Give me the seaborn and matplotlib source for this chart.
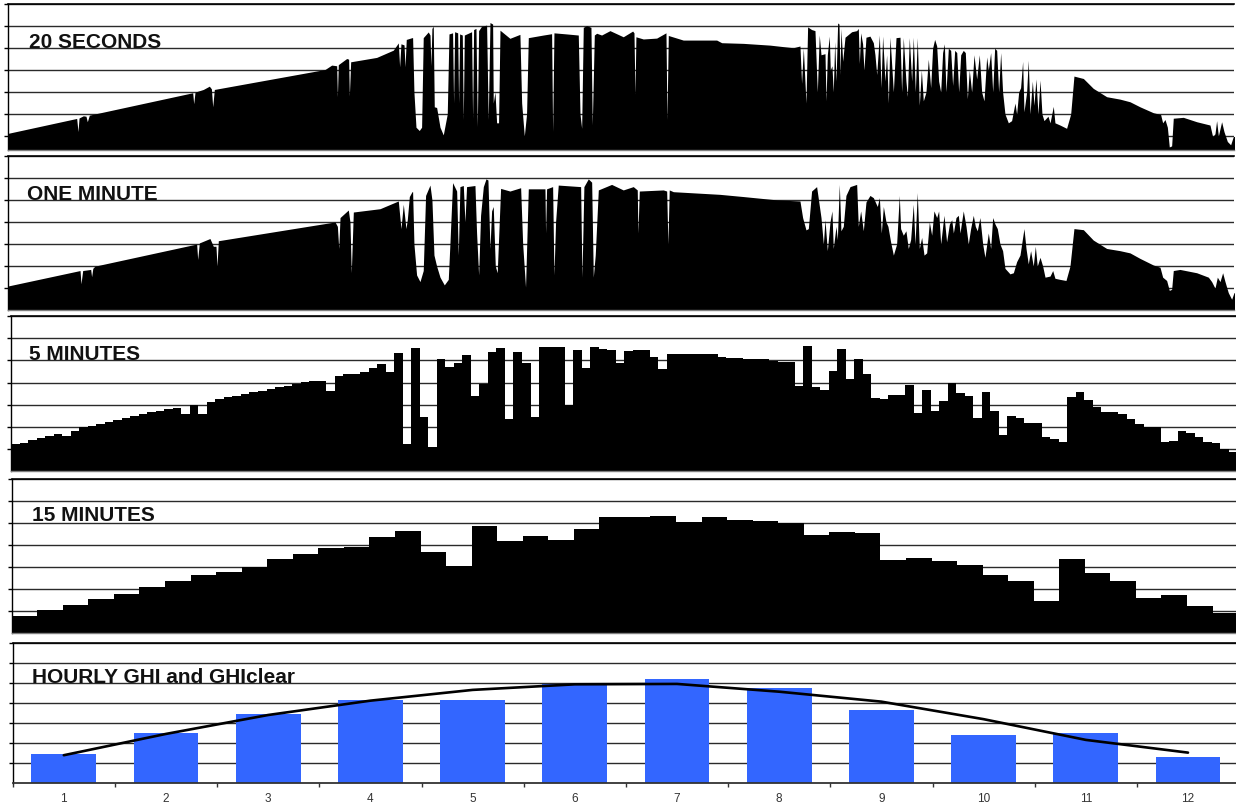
import numpy as np
import seaborn as sns
import matplotlib.pyplot as plt

# 20 second record, traced as (hour, W/m2) vertices
trace_20s = [
    (0.0, 112), (0.672, 180), (0.685, 120), (0.695, 182), (0.737, 192), (0.763, 190),
    (0.776, 165), (0.796, 195), (1.807, 297), (1.817, 247), (1.83, 300), (1.911, 312),
    (1.97, 327), (1.99, 315), (2.003, 233), (2.019, 312), (3.102, 403), (3.167, 423),
    (3.216, 420), (3.223, 279), (3.232, 425), (3.314, 453), (3.333, 450), (3.34, 282),
    (3.353, 438), (3.607, 458), (3.77, 491), (3.819, 524), (3.832, 415), (3.845, 520),
    (3.875, 515), (3.885, 415), (3.897, 540), (3.953, 548),
    (3.959, 548), (3.972, 300), (3.992, 140), (4.024, 125), (4.047, 140), (4.063, 548),
    (4.112, 574), (4.129, 560), (4.138, 420), (4.148, 590), (4.161, 600), (4.171, 233),
    (4.194, 230), (4.227, 140), (4.259, 105), (4.298, 200), (4.315, 565), (4.35, 570),
    (4.36, 250), (4.37, 575), (4.4, 570), (4.409, 250), (4.419, 565), (4.445, 560),
    (4.455, 175), (4.465, 560), (4.536, 575), (4.546, 180), (4.556, 585), (4.579, 590),
    (4.592, 142), (4.605, 580), (4.634, 600), (4.683, 605), (4.699, 175), (4.716, 617),
    (4.742, 610), (4.748, 250), (4.765, 300), (4.781, 160), (4.8, 160), (4.814, 582),
    (4.911, 545), (5.009, 563), (5.026, 250), (5.052, 100), (5.074, 200), (5.091, 548),
    (5.238, 560), (5.319, 566), (5.329, 120), (5.342, 570), (5.466, 565), (5.58, 560),
    (5.597, 200), (5.613, 135), (5.629, 595), (5.662, 603), (5.704, 595), (5.717, 150),
    (5.737, 560), (5.76, 568), (5.808, 560), (5.89, 580), (6.02, 552), (6.112, 578),
    (6.125, 570), (6.135, 290), (6.144, 552), (6.216, 542), (6.347, 546), (6.438, 570),
    (6.448, 175), (6.461, 558), (6.607, 537), (6.934, 537), (6.983, 525), (7.195, 522),
    (7.456, 514), (7.684, 502), (7.749, 510), (7.765, 340), (7.782, 500), (7.808, 250),
    (7.824, 597), (7.863, 585), (7.896, 580), (7.919, 300), (7.938, 560),
    (7.955, 470), (7.994, 475), (8.004, 260), (8.017, 470), (8.036, 555), (8.046, 400),
    (8.062, 420), (8.075, 300), (8.089, 530), (8.102, 350), (8.118, 615), (8.131, 610),
    (8.141, 380), (8.15, 590), (8.167, 440), (8.19, 550), (8.255, 575), (8.304, 580),
    (8.32, 590), (8.33, 430), (8.343, 570), (8.362, 520), (8.375, 400), (8.395, 550),
    (8.434, 555), (8.467, 525), (8.483, 470), (8.5, 380), (8.526, 560), (8.542, 320),
    (8.558, 555), (8.581, 350), (8.597, 470), (8.614, 250), (8.63, 550), (8.663, 300),
    (8.689, 548), (8.728, 550), (8.744, 300), (8.76, 548), (8.786, 350), (8.8, 280),
    (8.819, 548), (8.842, 350), (8.858, 550), (8.878, 300), (8.897, 548), (8.917, 240),
    (8.937, 400), (8.956, 260), (8.982, 300), (9.005, 450), (9.028, 320), (9.047, 500),
    (9.067, 540), (9.087, 510), (9.106, 350), (9.126, 300), (9.145, 480), (9.162, 520),
    (9.178, 300), (9.201, 500), (9.224, 490), (9.243, 330), (9.263, 490), (9.283, 480),
    (9.302, 300), (9.322, 470), (9.347, 490), (9.367, 480), (9.387, 270), (9.406, 400),
    (9.429, 300), (9.452, 470), (9.478, 360), (9.504, 470), (9.527, 300), (9.55, 260),
    (9.576, 460), (9.592, 400), (9.615, 480), (9.635, 300), (9.654, 500), (9.674, 490),
    (9.693, 300), (9.713, 480), (9.732, 300), (9.755, 200), (9.788, 160), (9.82, 170),
    (9.853, 250), (9.869, 200), (9.889, 300), (9.908, 320), (9.928, 440), (9.941, 210),
    (9.967, 300), (9.983, 445), (10.0, 200), (10.023, 350), (10.039, 240), (10.058, 360),
    (10.078, 200), (10.098, 355), (10.117, 200), (10.137, 170), (10.176, 190), (10.196, 160),
    (10.228, 235), (10.244, 160), (10.293, 150), (10.358, 135), (10.398, 200), (10.43, 373),
    (10.522, 362), (10.619, 317), (10.75, 279), (10.88, 268), (10.978, 256), (11.076, 233),
    (11.207, 206), (11.278, 198), (11.298, 160), (11.321, 175), (11.344, 140), (11.363, 50),
    (11.386, 55), (11.402, 181), (11.5, 185), (11.631, 165), (11.761, 150), (11.787, 97),
    (11.81, 110), (11.826, 170), (11.843, 100), (11.875, 165), (11.898, 120), (11.931, 75),
    (11.963, 60), (11.989, 97), (12.015, 100),
]

# one minute record, traced as (hour, W/m2) vertices
trace_1min = [
    (0.0, 110), (0.705, 180), (0.714, 120), (0.731, 180), (0.809, 185), (0.818, 152),
    (0.83, 190), (0.851, 200), (1.846, 300), (1.856, 230), (1.872, 305), (1.976, 325),
    (2.009, 290), (2.035, 290), (2.045, 200), (2.058, 315), (3.2, 400), (3.223, 380),
    (3.236, 280), (3.249, 420), (3.33, 454), (3.346, 400), (3.359, 170), (3.379, 445),
    (3.64, 460), (3.819, 495), (3.845, 370), (3.868, 480), (3.894, 370), (3.907, 410),
    (3.927, 515), (3.953, 537),
    (3.959, 537), (3.972, 300), (3.998, 160), (4.031, 130), (4.063, 180), (4.086, 520),
    (4.129, 567), (4.148, 500), (4.168, 250), (4.194, 200), (4.227, 150), (4.269, 115),
    (4.308, 140), (4.324, 300), (4.35, 578), (4.39, 540), (4.406, 250), (4.422, 560),
    (4.455, 565), (4.471, 400), (4.487, 560), (4.569, 565), (4.585, 350), (4.605, 160),
    (4.624, 430), (4.651, 560), (4.677, 595), (4.696, 590), (4.716, 280), (4.732, 450),
    (4.748, 470), (4.768, 200), (4.787, 170), (4.82, 552), (4.911, 540), (5.016, 555),
    (5.036, 300), (5.064, 105), (5.091, 550), (5.254, 550), (5.26, 350), (5.27, 550),
    (5.329, 560), (5.342, 160), (5.358, 400), (5.384, 567), (5.603, 560), (5.616, 150),
    (5.635, 560), (5.678, 595), (5.711, 580), (5.727, 150), (5.746, 250), (5.776, 545),
    (5.906, 570), (6.02, 545), (6.118, 560), (6.157, 545), (6.164, 350), (6.177, 540),
    (6.412, 545), (6.445, 540), (6.457, 300), (6.47, 545), (6.51, 537), (6.966, 525),
    (7.195, 515), (7.521, 500), (7.749, 495), (7.775, 420), (7.808, 364), (7.831, 370),
    (7.863, 540), (7.912, 560),
    (7.955, 420), (7.978, 300), (7.994, 410), (8.017, 270), (8.043, 400), (8.062, 450),
    (8.075, 280), (8.102, 380), (8.115, 320), (8.134, 570), (8.15, 360), (8.173, 380),
    (8.199, 520), (8.239, 560), (8.304, 570), (8.32, 380), (8.343, 450), (8.369, 360),
    (8.395, 490), (8.434, 520), (8.467, 510), (8.506, 470), (8.526, 510), (8.545, 350),
    (8.565, 470), (8.591, 400), (8.61, 380), (8.636, 310), (8.663, 250), (8.695, 300),
    (8.721, 520), (8.734, 370), (8.76, 340), (8.786, 360), (8.809, 280), (8.832, 320),
    (8.858, 480), (8.875, 300), (8.897, 533), (8.917, 280), (8.94, 330), (8.963, 250),
    (8.989, 260), (9.015, 400), (9.038, 340), (9.06, 450), (9.087, 420), (9.106, 450),
    (9.126, 300), (9.158, 430), (9.184, 310), (9.211, 390), (9.234, 410), (9.25, 350),
    (9.276, 420), (9.299, 430), (9.315, 350), (9.347, 450), (9.374, 380), (9.396, 300),
    (9.419, 370), (9.445, 430), (9.465, 380), (9.484, 360), (9.51, 420), (9.537, 300),
    (9.559, 240), (9.592, 350), (9.615, 280), (9.635, 420), (9.658, 390), (9.68, 370),
    (9.706, 300), (9.732, 270), (9.755, 190), (9.804, 165), (9.837, 170), (9.869, 220),
    (9.902, 250), (9.941, 370), (9.961, 280), (9.983, 210), (10.006, 270), (10.032, 200),
    (10.052, 290), (10.071, 200), (10.098, 240), (10.124, 200), (10.147, 150), (10.196, 155),
    (10.222, 180), (10.244, 145), (10.293, 140), (10.352, 135), (10.391, 200), (10.43, 370),
    (10.522, 365), (10.619, 318), (10.75, 280), (10.88, 270), (10.978, 260), (11.076, 235),
    (11.207, 205), (11.272, 195), (11.298, 150), (11.337, 135), (11.363, 90), (11.386, 95),
    (11.402, 180), (11.467, 185), (11.631, 170), (11.745, 150), (11.777, 130), (11.81, 100),
    (11.833, 150), (11.859, 130), (11.885, 170), (11.908, 130), (11.94, 80), (11.973, 50),
    (11.996, 80), (12.015, 80),
]

# 5 minute means (144 steps)
ghi_5min = [
    123, 129, 141, 150, 159, 168, 158, 183, 198, 204, 215, 222, 231, 240, 248, 257,
    266, 273, 280, 284, 257, 299, 257, 314, 324, 333, 341, 348, 356, 363, 371, 379,
    386, 393, 401, 405, 407, 362, 429, 437, 437, 447, 464, 484, 446, 532, 123, 554,
    246, 111, 506, 470, 490, 523, 339, 392, 536, 554, 237, 536, 490, 243, 562, 562,
    559, 299, 547, 467, 562, 550, 545, 490, 541, 545, 545, 517, 460, 530, 527, 527,
    527, 527, 530, 517, 512, 512, 508, 506, 505, 499, 491, 494, 385, 565, 382, 366,
    451, 550, 416, 508, 437, 329, 324, 345, 345, 388, 264, 366, 272, 318, 397, 354,
    341, 242, 359, 272, 165, 249, 242, 216, 216, 153, 147, 132, 333, 359, 320, 288,
    269, 266, 258, 236, 213, 201, 201, 134, 137, 182, 174, 156, 134, 129, 101, 89,
]

# 15 minute means (48 steps)
ghi_15min = [
    80, 104, 130, 157, 177, 212, 238, 265, 280, 300, 338, 362, 388, 391, 438, 466,
    370, 307, 488, 421, 444, 424, 473, 527, 529, 533, 506, 530, 516, 509, 501, 445,
    459, 455, 335, 341, 329, 312, 265, 236, 145, 338, 273, 236, 159, 173, 124, 91,
]

hours = ["1", "2", "3", "4", "5", "6", "7", "8", "9", "10", "11", "12"]
ghi_hourly = [144, 250, 345, 416, 416, 494, 521, 476, 366, 240, 250, 129]
ghi_clear = [138, 245, 340, 412, 466, 494, 496, 457, 407, 319, 215, 151]

sns.set_theme(style="white")
plt.rcParams['font.family'] = ['Liberation Sans', 'DejaVu Sans']

W, H = 1236, 807
fig = plt.figure(figsize=(W / 100, H / 100), dpi=100)


def panel(x0, top, bottom, ymin=0):
    ax = fig.add_axes([x0 / W, 1 - bottom / H, 1226.4 / W, (bottom - top) / H])
    ax.set_ylim(ymin, 700)
    ax.set_yticks(range(100, 701, 100))
    ax.yaxis.grid(True, color='#2a2a2a', linewidth=1.0)
    ax.set_axisbelow(True)
    ax.tick_params(axis='y', left=True, direction='out', length=3, width=1,
                   color='black', labelleft=False, pad=0)
    ax.spines['left'].set_color('black')
    ax.spines['left'].set_linewidth(1.0)
    ax.spines['top'].set_color('black')
    ax.spines['top'].set_linewidth(1.2)
    ax.spines['right'].set_visible(False)
    ax.spines['bottom'].set_color('#7f7f7f')
    ax.spines['bottom'].set_linewidth(1.0)
    return ax


def title(x, baseline, text):
    fig.text(x / W, 1 - baseline / H, text, fontsize=15, fontweight='bold',
             ha='left', va='baseline', color='#111111')


# 20 seconds
ax1 = panel(8, 4.3, 149.5, ymin=38.5)
t, v = zip(*trace_20s)
ax1.fill_between(t, v, 0, color='black', linewidth=0)
ax1.set_xlim(0, 12)
ax1.set_xticks([])

# one minute
ax2 = panel(8, 155.7, 310.3)
t, v = zip(*trace_1min)
ax2.fill_between(t, v, 0, color='black', linewidth=0)
ax2.set_xlim(0, 12)
ax2.set_xticks([])

# 5 minutes
ax3 = panel(11, 316, 471.3)
t5 = np.arange(len(ghi_5min) + 1) / 12
ax3.fill_between(t5, ghi_5min + ghi_5min[-1:], 0, step='post', color='black', linewidth=0)
ax3.set_xlim(0, 12)
ax3.set_xticks([])

# 15 minutes
ax4 = panel(11.7, 479.3, 633.3)
t15 = np.arange(len(ghi_15min) + 1) / 4
ax4.fill_between(t15, ghi_15min + ghi_15min[-1:], 0, step='post', color='black', linewidth=0)
ax4.set_xlim(0, 12)
ax4.set_xticks([])

# hourly GHI bars and clear-sky line
ax5 = panel(12.7, 643.3, 782.7)
sns.barplot(x=hours, y=ghi_hourly, color='#3366ff', saturation=1, width=0.636,
            linewidth=0, ax=ax5)
sns.lineplot(x=np.arange(len(hours)), y=ghi_clear, color='black', linewidth=1.9, ax=ax5)
ax5.set_xlim(-0.5, len(hours) - 0.5)
ax5.set_ylim(0, 700)
ax5.set_xlabel('')
ax5.set_ylabel('')
ax5.set_xticks(range(len(hours)))
ax5.set_xticklabels(hours)
ax5.set_xticks(np.arange(-0.5, len(hours), 1), minor=True)
ax5.tick_params(axis='x', which='major', bottom=True, length=0, pad=7.6,
                labelsize=8.5, labelcolor='#333333')
ax5.tick_params(axis='x', which='minor', bottom=True, direction='out', length=3,
                width=1, color='#333333')
ax5.spines['bottom'].set_color('#333333')
ax5.spines['bottom'].set_linewidth(1.3)

title(29, 48, '20 SECONDS')
title(26.7, 200, 'ONE MINUTE')
title(29, 360, '5 MINUTES')
title(31.7, 521, '15 MINUTES')
title(32.3, 683.3, 'HOURLY GHI and GHIclear')

fig.savefig('out.png', dpi=100)
